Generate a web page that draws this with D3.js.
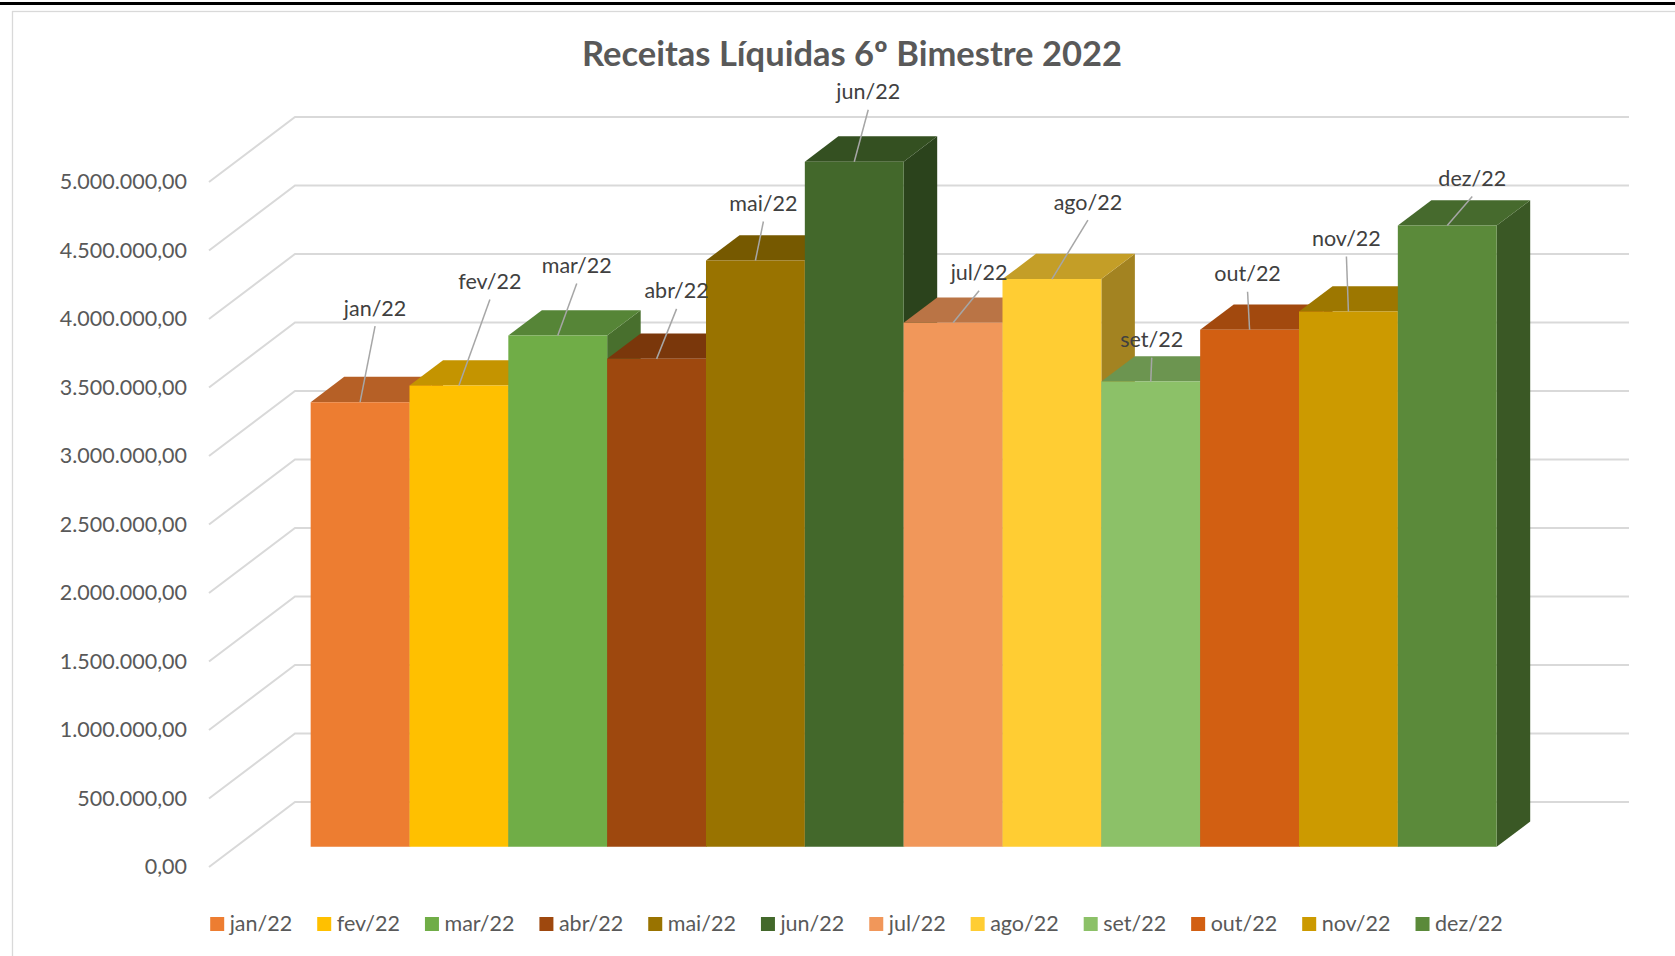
<!DOCTYPE html>
<html><head><meta charset="utf-8">
<script src="https://cdn.jsdelivr.net/npm/d3@7"></script>
<style>
body{margin:0;background:#fff;overflow:hidden;}
svg{display:block;}
text{font-family:Lato, Carlito, "Liberation Sans", sans-serif;}
</style>
</head><body>
<svg id="chart" width="1675" height="956"></svg>
<script>
// ---------------- data ----------------
const titleText = "Receitas Líquidas 6º Bimestre 2022";
const categories = ["jan/22","fev/22","mar/22","abr/22","mai/22","jun/22","jul/22","ago/22","set/22","out/22","nov/22","dez/22"];
const values = [3246000, 3367000, 3732000, 3562000, 4280000, 5001000, 3825000, 4144000, 3396000, 3774000, 3907000, 4535000];
const colors = ["#ED7D31","#FFC000","#70AD47","#9E480E","#997300","#43682B","#F1975A","#FFCD33","#8CC168","#D25F12","#CC9A00","#5B8A3A"];
const yTicks = [0,500000,1000000,1500000,2000000,2500000,3000000,3500000,4000000,4500000,5000000];

// ---------------- layout (not data) ----------------
const labelOffsets = [[15,-94],[31,-104],[19,-70],[20,-68],[8,-57],[14,-70],[26,-50],[36,-77],[1,-42],[-2,-56],[-2,-73],[25,-47]];
const FS = 21.5;
const depth = {x: 86, y: -65};     // full floor depth vector
const t0 = 0.31, t1 = 0.70;        // bar depth range

const svg = d3.select("#chart");

// frame
svg.append("rect").attr("x",0).attr("y",2).attr("width",1675).attr("height",3).attr("fill","#000");
svg.append("rect").attr("x",12.5).attr("y",11.5).attr("width",1720).attr("height",1000)
  .attr("fill","none").attr("stroke","#D9D9D9").attr("stroke-width",1.3);

// scales
const y = d3.scaleLinear().domain([0,5000000]).range([867,182]);
const x = d3.scaleBand().domain(categories).range([284,1470]).padding(0);
const wallLeft = 209, wallRight = 1543;
const proj = (xf, v, t) => [xf + depth.x*t, y(v) + depth.y*t];

// gridlines
const g = svg.append("g");
g.selectAll("path.grid").data(yTicks).join("path")
  .attr("class","grid")
  .attr("d", v => {
    const a = proj(wallLeft, v, 0), b = proj(wallLeft, v, 1), c = proj(wallRight, v, 1);
    return `M${a}L${b}L${c}`;
  })
  .attr("fill","none").attr("stroke","#D9D9D9").attr("stroke-width",2);

// y axis labels
const loc = d3.formatLocale({decimal:",", thousands:".", grouping:[3], currency:["R$",""]});
const fmt = loc.format(",.2f");
const axis = d3.axisLeft(y).tickValues(yTicks).tickFormat(fmt).tickSize(0).tickPadding(22);
const ag = svg.append("g").attr("transform",`translate(${wallLeft},0)`).call(axis);
ag.select(".domain").remove();
ag.selectAll("text").attr("fill","#595959").style("font-size",FS+"px").style("font-family","Lato, Carlito, sans-serif");

// bars
const shade = (c,k) => { const r = d3.rgb(c); return d3.rgb(r.r*k, r.g*k, r.b*k).formatHex(); };
const poly = pts => "M" + pts.map(p => p.join(",")).join("L") + "Z";
const bars = svg.append("g");
categories.forEach((cat, i) => {
  const v = values[i], xl = x(cat), xr = x(cat) + x.bandwidth();
  const bg = bars.append("g");
  bg.append("path").attr("d", poly([proj(xr,v,t0),proj(xr,v,t1),proj(xr,0,t1),proj(xr,0,t0)]))
    .attr("fill", shade(colors[i],0.64));
  bg.append("path").attr("d", poly([proj(xl,v,t0),proj(xr,v,t0),proj(xr,v,t1),proj(xl,v,t1)]))
    .attr("fill", shade(colors[i],0.77));
  bg.append("path").attr("d", poly([proj(xl,v,t0),proj(xr,v,t0),proj(xr,0,t0),proj(xl,0,t0)]))
    .attr("fill", colors[i]);
});

// data labels with leader lines
const lg = svg.append("g");
categories.forEach((cat, i) => {
  const anchor = proj(x(cat) + x.bandwidth()/2, values[i], t0);
  const lx = anchor[0] + labelOffsets[i][0], ly = anchor[1] + labelOffsets[i][1];
  lg.append("line").attr("x1",lx).attr("y1",ly+18).attr("x2",anchor[0]).attr("y2",anchor[1])
    .attr("stroke","#A6A6A6").attr("stroke-width",1.5);
  lg.append("text").attr("x",lx).attr("y",ly).attr("dy","0.35em").attr("text-anchor","middle")
    .attr("fill","#404040").style("font-size",FS+"px").text(cat);
});

// title
svg.append("text").attr("x",852).attr("y",66).attr("text-anchor","middle")
  .attr("fill","#595959").style("font-size","34.5px").style("font-weight","bold").text(titleText);

// legend
const leg = svg.append("g");
const items = categories.map((cat,i) => {
  const it = leg.append("g");
  it.append("rect").attr("width",14).attr("height",14).attr("y",-14).attr("fill",colors[i]);
  const t = it.append("text").attr("x",19.5).attr("y",0).attr("fill","#595959").style("font-size",FS+"px").text(cat);
  return {it, w: 19.5 + t.node().getComputedTextLength()};
});
const gap = 25;
const total = d3.sum(items, d => d.w) + gap*(items.length-1);
let cx = 856.5 - total/2;
items.forEach(d => { d.it.attr("transform",`translate(${cx},931)`); cx += d.w + gap; });
</script>
</body></html>
